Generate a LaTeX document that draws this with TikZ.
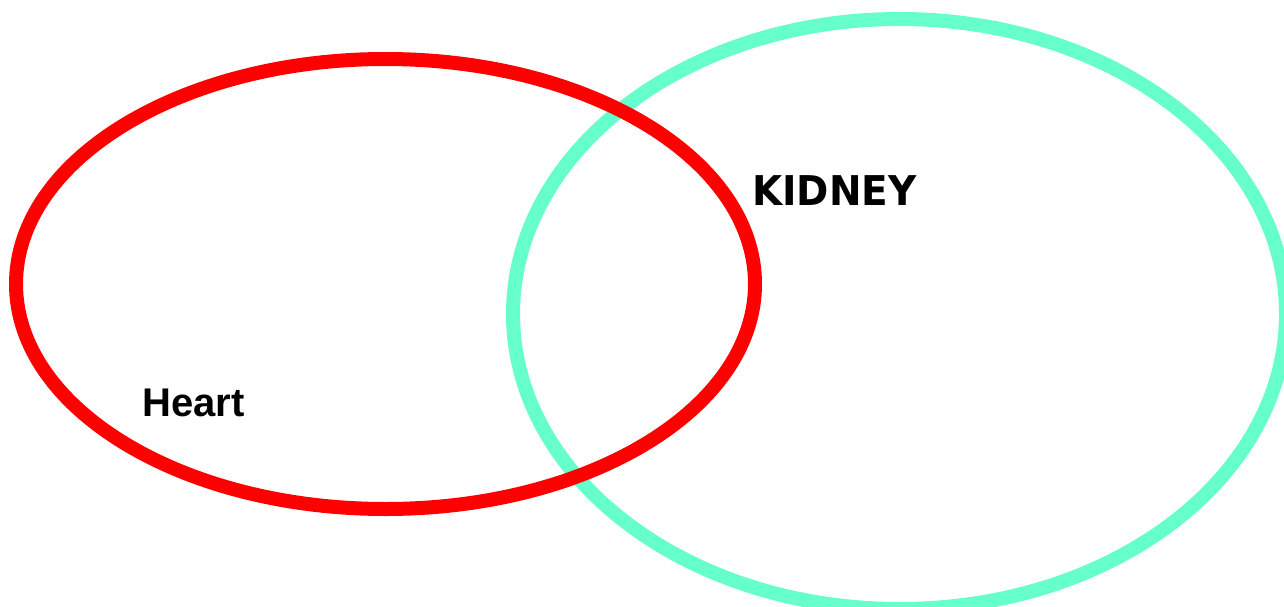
\documentclass[tikz,border=0pt]{standalone}
\usepackage{fontspec}
\usepackage{graphicx}
\newfontfamily\kidneyfont{DejaVu Sans}
\newfontfamily\heartfont{Liberation Sans}
\definecolor{heartred}{HTML}{FF0000}
\definecolor{kidneygreen}{HTML}{66FFCC}
\tikzset{
  ring/.style={line width=14pt},
  label/.style={inner sep=0pt, anchor=base west, text=black}
}
\begin{document}
\begin{tikzpicture}[x=1pt,y=-1pt]
\useasboundingbox (0,0) rectangle (1284,607);
\fill[white] (0,0) rectangle (1284,607);
\begin{scope}
\clip (0,0) rectangle (1284,607);
\draw[ring, kidneygreen] (899.5,314) ellipse [x radius=386.5, y radius=295];
\draw[ring, heartred] (385.5,284) ellipse [x radius=369.5, y radius=225];
\end{scope}
\node[label] (kidney) at (752,205) {\scalebox{0.95}[1]{\kidneyfont\bfseries\fontsize{41}{41}\selectfont KIDNEY}};
\node[label] (heart) at (142,416) {\heartfont\bfseries\fontsize{40}{40}\selectfont Heart};
\end{tikzpicture}
\end{document}
